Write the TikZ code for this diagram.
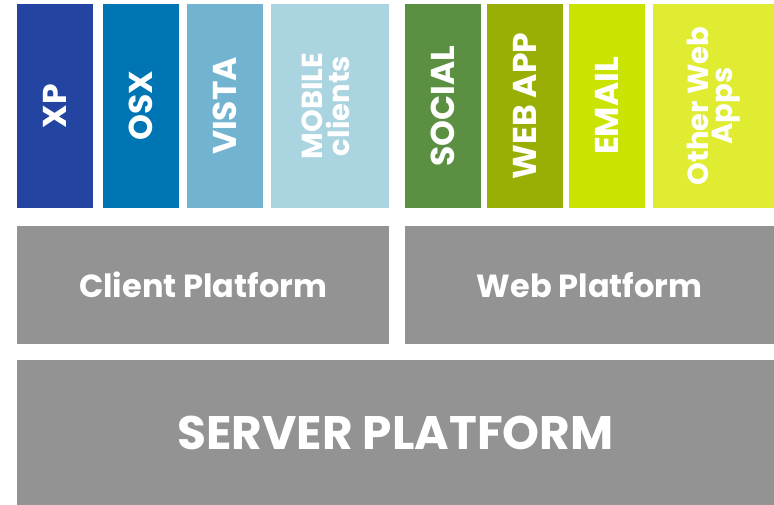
\documentclass[tikz,border=0pt]{standalone}
\usepackage{fontspec}
\setmainfont{Poppins}
\definecolor{xpc}{HTML}{2344A0}
\definecolor{osxc}{HTML}{0075B4}
\definecolor{vistac}{HTML}{72B3CF}
\definecolor{mobc}{HTML}{AAD4E0}
\definecolor{socc}{HTML}{5B9043}
\definecolor{webc}{HTML}{9AAF06}
\definecolor{emailc}{HTML}{CBE300}
\definecolor{otherc}{HTML}{DFEC31}
\definecolor{grayc}{HTML}{939393}
\tikzset{
  box/.style={anchor=north west, inner sep=0pt, outer sep=0pt, text=white, font=\bfseries\fontsize{33}{33}\selectfont, align=center},
  col/.style={box, minimum width=76pt, minimum height=204pt},
  plat/.style={box, fill=grayc, minimum height=118pt, font=\bfseries\fontsize{32}{32}\selectfont},
}
\begin{document}
\begin{tikzpicture}[x=1pt,y=-1pt]
\useasboundingbox (0,0) rectangle (774,505);
\node[col, fill=xpc] (xp) at (17,4) {\rotatebox{90}{XP}};
\node[col, fill=osxc] (osx) at (103,4) {\rotatebox{90}{OSX}};
\node[col, fill=vistac] (vista) at (187,4) {\rotatebox{90}{VISTA}};
\node[col, fill=mobc, minimum width=118pt, font=\bfseries\fontsize{29}{26}\selectfont] (mobile) at (271,4) {\rotatebox{90}{\begin{tabular}{@{}c@{}}MOBILE\\[-4pt]clients\end{tabular}}};
\node[col, fill=socc] (social) at (405,4) {\rotatebox{90}{SOCIAL}};
\node[col, fill=webc] (webapp) at (487,4) {\rotatebox{90}{WEB APP}};
\node[col, fill=emailc] (email) at (569,4) {\rotatebox{90}{EMAIL}};
\node[col, fill=otherc, minimum width=121pt, font=\bfseries\fontsize{29}{26}\selectfont] (other) at (653,4) {\rotatebox{90}{\begin{tabular}{@{}c@{}}Other Web\\[-4pt]Apps\end{tabular}}};
\node[plat, minimum width=372pt] (client) at (17,226) {Client Platform};
\node[plat, minimum width=369pt] (web) at (405,226) {Web Platform};
\node[box, fill=grayc, minimum width=757pt, minimum height=145pt, font=\bfseries\fontsize{47}{47}\selectfont] (server) at (17,360) {SERVER PLATFORM};
\end{tikzpicture}
\end{document}
